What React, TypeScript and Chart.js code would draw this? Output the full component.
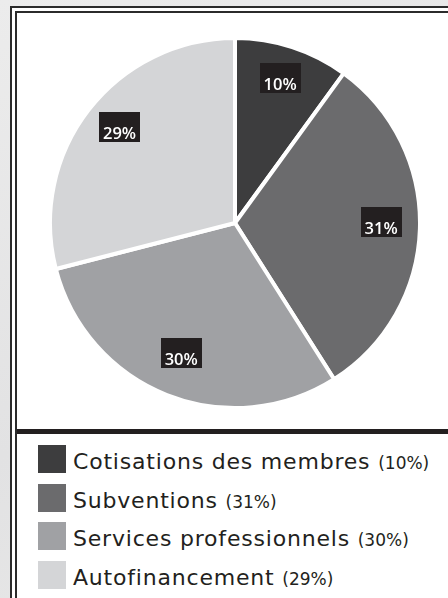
import React, { useEffect, useRef } from "react";
import { Chart, ArcElement, PieController } from "chart.js";

Chart.register(ArcElement, PieController);

const categories = [
  "Cotisations des membres",
  "Subventions",
  "Services professionnels",
  "Autofinancement",
];
const values = [10, 31, 30, 29];
const sliceColors = ["#3d3d3e", "#6b6b6d", "#a0a1a4", "#d4d5d7"];

const LABEL_FONT = "600 16.5px 'Open Sans'";

const boxLabels = {
  id: "boxLabels",
  afterDatasetsDraw(chart: any) {
    const ctx = chart.ctx as CanvasRenderingContext2D;
    const meta = chart.getDatasetMeta(0);
    meta.data.forEach((arc: any, i: number) => {
      const { x, y, startAngle, endAngle, outerRadius } = arc.getProps(
        ["x", "y", "startAngle", "endAngle", "outerRadius"],
        true
      );
      const mid = (startAngle + endAngle) / 2;
      const r = outerRadius * 0.79;
      const cx = x + Math.cos(mid) * r;
      const cy = y + Math.sin(mid) * r;
      const text = values[i] + "%";
      ctx.save();
      ctx.font = LABEL_FONT;
      const w = ctx.measureText(text).width;
      ctx.fillStyle = "#231f20";
      ctx.fillRect(Math.round(cx - w / 2 - 4), Math.round(cy - 21), Math.round(w + 8), 30);
      ctx.fillStyle = "#ffffff";
      ctx.textAlign = "center";
      ctx.textBaseline = "alphabetic";
      ctx.fillText(text, cx, cy + 6);
      ctx.restore();
    });
  },
};

function PieChart() {
  const ref = useRef<HTMLCanvasElement | null>(null);
  useEffect(() => {
    if (!ref.current) return;
    const chart = new Chart(ref.current, {
      type: "pie",
      data: {
        labels: categories,
        datasets: [
          {
            data: values,
            backgroundColor: sliceColors,
            borderColor: "#ffffff",
            borderWidth: 4,
          },
        ],
      },
      options: {
        animation: false,
        responsive: false,
        maintainAspectRatio: false,
        plugins: {
          legend: { display: false },
          tooltip: { enabled: false },
        },
        layout: { padding: 0 },
      },
      plugins: [boxLabels],
    });
    return () => chart.destroy();
  }, []);
  return (
    <canvas
      ref={ref}
      width={374}
      height={374}
      style={{ position: "absolute", left: 31, top: 23, width: 374, height: 374 }}
    />
  );
}

export default function App() {
  const border = "2px solid #2b2b2b";
  return (
    <div
      style={{
        position: "fixed",
        left: 0,
        top: 0,
        width: 448,
        height: 598,
        overflow: "hidden",
        background: "linear-gradient(160deg, #ececec 0%, #e2e2e3 60%, #e8e8e8 100%)",
      }}
    >
      <div
        style={{
          position: "absolute",
          left: 10,
          top: 6,
          width: 470,
          height: 640,
          border,
          background: "#ffffff",
        }}
      >
        <div
          style={{
            position: "absolute",
            left: 3,
            top: 3,
            width: 460,
            height: 630,
            border,
            background: "#ffffff",
          }}
        >
          <PieChart />
          <div
            style={{
              position: "absolute",
              left: 0,
              top: 416,
              width: 460,
              height: 5,
              background: "#231f20",
            }}
          />
          {categories.map((c, i) => (
            <div
              key={c}
              style={{
                position: "absolute",
                left: 21,
                top: 432 + i * 38.5,
                height: 30,
                width: 420,
              }}
            >
              <div
                style={{
                  position: "absolute",
                  left: 0,
                  top: 0,
                  width: 28,
                  height: 28,
                  background: sliceColors[i],
                }}
              />
              <div
                style={{
                  position: "absolute",
                  left: 35,
                  top: 6,
                  lineHeight: "22px",
                  fontFamily: "'DejaVu Sans'",
                  fontSize: 22,
                  letterSpacing: "0.8px",
                  color: "#231f20",
                  whiteSpace: "nowrap",
                }}
              >
                {c}{" "}
                <span style={{ fontSize: 17, letterSpacing: "0px" }}>({values[i]}%)</span>
              </div>
            </div>
          ))}
        </div>
      </div>
    </div>
  );
}
